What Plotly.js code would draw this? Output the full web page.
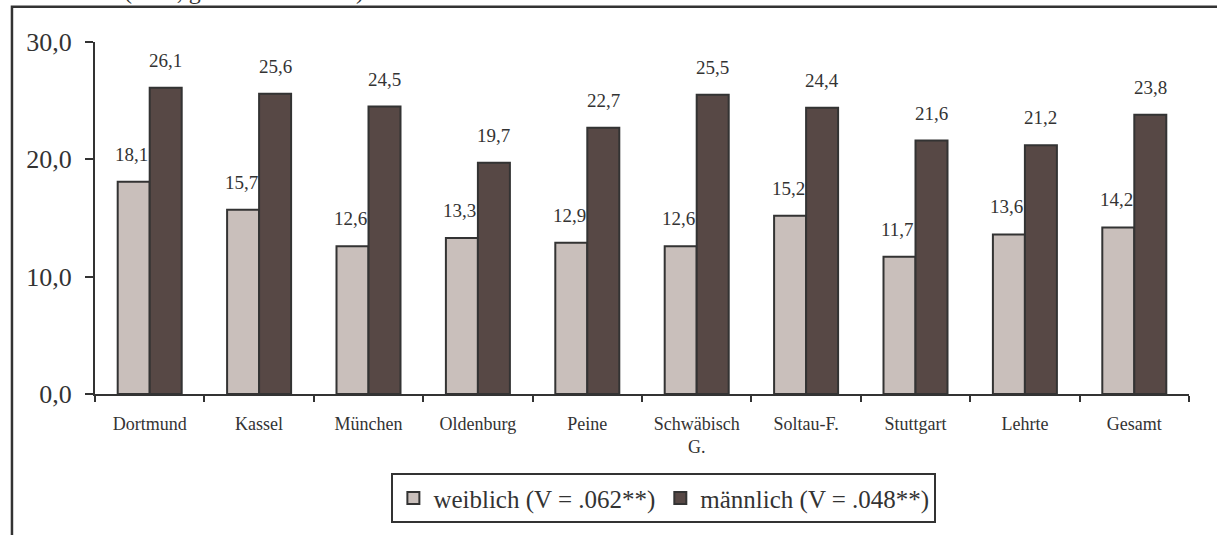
<!DOCTYPE html>
<html>
<head>
<meta charset="utf-8">
<script src="https://cdn.plot.ly/plotly-3.0.1.min.js"></script>
<style>
html,body{margin:0;padding:0;background:#fff;}
#chart{width:1217px;height:535px;}
</style>
</head>
<body>
<div id="chart"></div>
<script>
const categories = ["Dortmund","Kassel","München","Oldenburg","Peine","Schwäbisch<br>G.","Soltau-F.","Stuttgart","Lehrte","Gesamt"];
const weiblich = [18.1,15.7,12.6,13.3,12.9,12.6,15.2,11.7,13.6,14.2];
const maennlich = [26.1,25.6,24.5,19.7,22.7,25.5,24.4,21.6,21.2,23.8];
const seriesNames = ["weiblich (V = .062**)","männlich (V = .048**)"];
const yTicks = [0,10,20,30];
const topNote = "(in %, gewichtete Daten)";

const fontFam = "'Liberation Serif', 'Times New Roman', serif";
const ink = "#333333";
const colW = "#c9bfbb", colM = "#574845";

const fmt = v => v.toFixed(1).replace('.', ',');

const traces = [
  {type:'bar', name:seriesNames[0], x:categories, y:weiblich,
   marker:{color:colW, line:{color:ink, width:2}}, hoverinfo:'skip'},
  {type:'bar', name:seriesNames[1], x:categories, y:maennlich,
   marker:{color:colM, line:{color:ink, width:2}}, hoverinfo:'skip'}
];

const annotations = [];
categories.forEach((c,i)=>{
  annotations.push({x:c, y:weiblich[i], xref:'x', yref:'y', text:fmt(weiblich[i]), showarrow:false,
    xshift:-18, yshift:15, yanchor:'bottom', font:{family:fontFam, size:19, color:ink}});
  annotations.push({x:c, y:maennlich[i], xref:'x', yref:'y', text:fmt(maennlich[i]), showarrow:false,
    xshift:16, yshift:15, yanchor:'bottom', font:{family:fontFam, size:19, color:ink}});
});
annotations.push({xref:'paper', yref:'paper', x:0.0247, y:1.146, xanchor:'left', yanchor:'middle',
  text:topNote, showarrow:false, font:{family:fontFam, size:24, color:ink}});

const layout = {
  width:1217, height:535,
  margin:{l:95, r:28, t:42, b:133},
  paper_bgcolor:'#fff', plot_bgcolor:'#fff',
  separators:',.',
  barmode:'group', bargap:0.415, bargroupgap:0,
  font:{family:fontFam, color:ink},
  xaxis:{type:'category', tickson:'boundaries', ticks:'outside', ticklen:6, tickwidth:2, tickcolor:ink,
    showline:true, linecolor:ink, linewidth:2, showgrid:false, zeroline:false, ticklabelstandoff:12,
    tickfont:{family:fontFam, size:18, color:ink}, fixedrange:true},
  yaxis:{range:[0,30], tickvals:yTicks, tickformat:'.1f', ticks:'outside', ticklen:8, tickwidth:2, tickcolor:ink,
    showline:true, linecolor:ink, linewidth:2, showgrid:false, zeroline:false, ticklabelstandoff:8,
    tickfont:{family:fontFam, size:26, color:ink}, fixedrange:true},
  showlegend:true,
  legend:{orientation:'h', x:0.52, xanchor:'center', y:-0.225, yanchor:'top',
    bordercolor:ink, borderwidth:2, bgcolor:'#fff', font:{family:fontFam, size:25, color:ink},
    itemwidth:30, traceorder:'normal', tracegroupgap:0},
  annotations:annotations,
  shapes:[{type:'rect', xref:'paper', yref:'paper', x0:-0.0759, x1:1.2, y0:-0.6, y1:1.1,
    line:{color:ink, width:2.5}, fillcolor:'rgba(0,0,0,0)', layer:'below'}]
};

Plotly.newPlot('chart', traces, layout, {staticPlot:true, displayModeBar:false});
</script>
</body>
</html>
